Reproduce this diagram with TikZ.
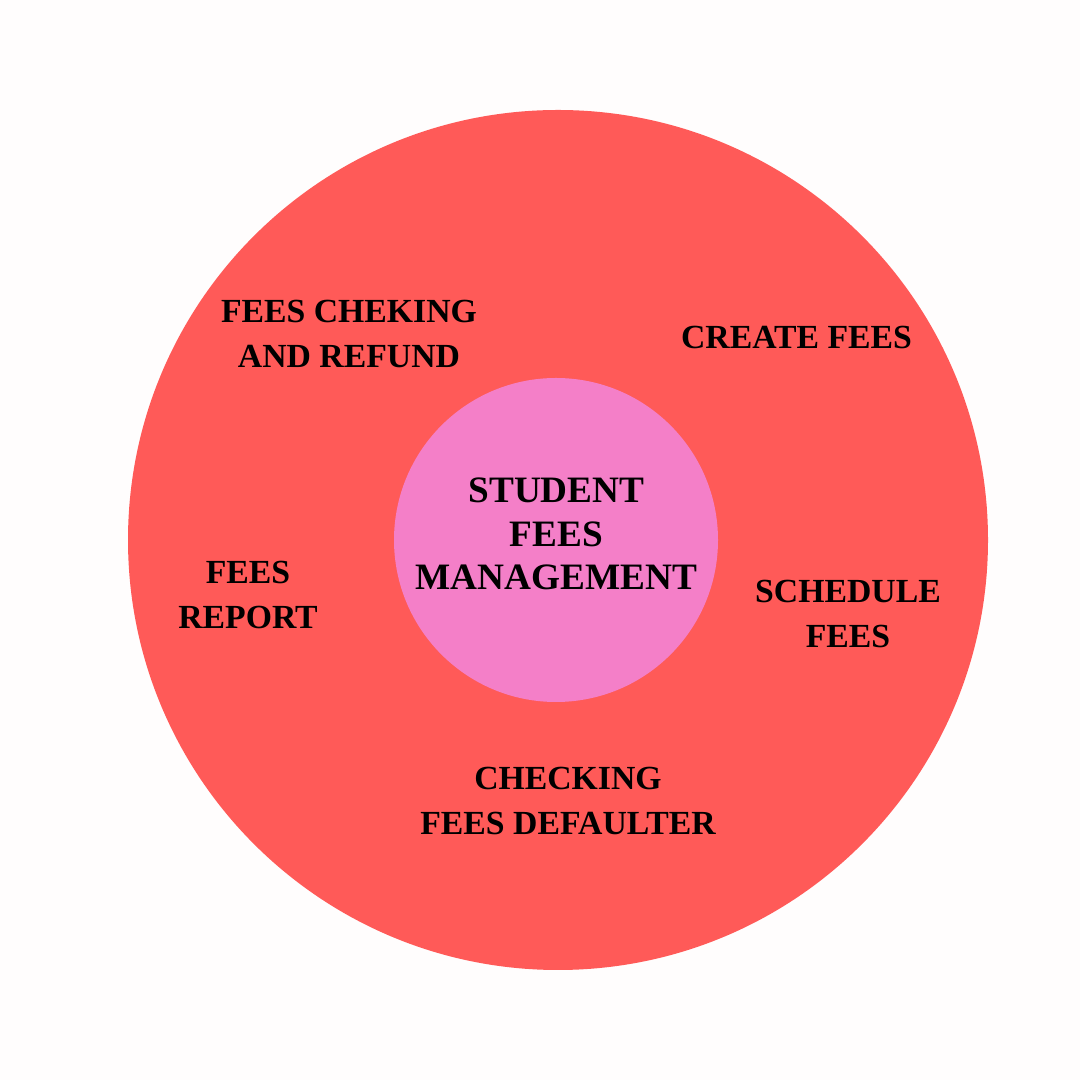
\documentclass[tikz,border=0pt]{standalone}
\usepackage{fontspec}
\setmainfont{Liberation Serif}
\usepackage{tikz}
\usetikzlibrary{positioning}
\definecolor{ringred}{HTML}{FF5A58}
\definecolor{corepink}{HTML}{F47FC8}
\definecolor{pagebg}{HTML}{FFFDFD}
\tikzstyle{ringnode} = [circle, minimum size=8.6cm, inner sep=0pt, fill=ringred]
\tikzstyle{corenode} = [circle, minimum size=3.24cm, inner sep=0pt, fill=corepink]
\tikzstyle{lbl} = [align=center, inner sep=0pt, font=\fontsize{9.6pt}{12.6pt}\selectfont\bfseries]

\begin{document}
\begin{tikzpicture}
    \fill[pagebg] (0,0) rectangle (10.8,10.8);
    \useasboundingbox (0,0) rectangle (10.8,10.8);

    % Circles
    \node (ring) [ringnode] at (5.58, 5.40) {};
    \node (core) [corenode] at (5.56, 5.40) {};

    % Labels
    \node (title) [lbl, font=\fontsize{10.6pt}{12.3pt}\selectfont\bfseries] at (5.565, 5.46) {STUDENT\\FEES\\MANAGEMENT};
    \node (refund) [lbl] at (3.49, 7.46) {FEES CHEKING\\AND REFUND};
    \node (create) [lbl] at (7.965, 7.42) {CREATE FEES};
    \node (report) [lbl] at (2.48, 4.85) {FEES\\REPORT};
    \node (schedule) [lbl] at (8.48, 4.66) {SCHEDULE\\FEES};
    \node (defaulter) [lbl] at (5.68, 2.79) {CHECKING\\FEES DEFAULTER};
\end{tikzpicture}
\end{document}
